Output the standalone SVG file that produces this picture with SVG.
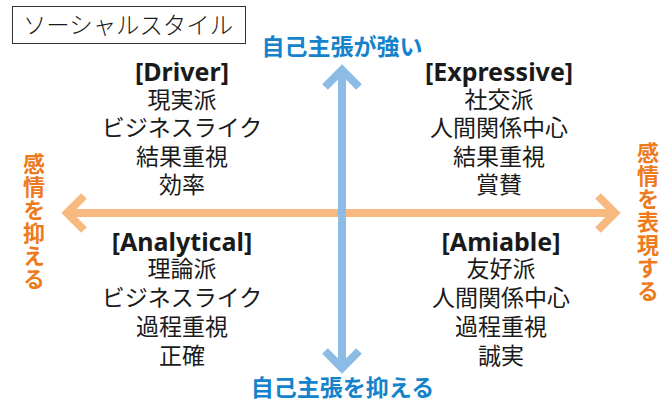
<svg xmlns="http://www.w3.org/2000/svg" width="667" height="403" viewBox="0 0 667 403">
<style>
.t{font-family:"Noto Sans CJK JP","Noto Sans",sans-serif;fill:#1a1a1a;font-size:23px;text-anchor:middle}
.h{font-family:"Noto Sans","Noto Sans CJK JP",sans-serif;font-weight:bold;font-size:25px}
.blue{font-family:"Noto Sans CJK JP",sans-serif;font-weight:bold;font-size:23px;fill:#1583CC;text-anchor:middle}
.orange{font-family:"Noto Sans CJK JP",sans-serif;font-weight:bold;font-size:22px;fill:#EE7A1C;writing-mode:vertical-rl;text-anchor:start;letter-spacing:1px}
.ah{fill:none;stroke-width:8;stroke-linejoin:miter;stroke-linecap:butt}
</style>
<rect x="0" y="0" width="667" height="403" fill="#ffffff"/>
<g id="title">
<rect x="12.5" y="6.5" width="233" height="37" fill="#ffffff" stroke="#333333" stroke-width="1"/>
<text class="t" x="128" y="33.5" style="font-size:23.4px;font-weight:300">ソーシャルスタイル</text>
</g>
<g id="connectors">
<g id="horizontal-axis" stroke="#F8B981">
<line x1="66" y1="213" x2="616" y2="213" stroke-width="8"/>
<polyline class="ah" points="84,196 67,213 84,230"/>
<polyline class="ah" points="598,196 615,213 598,230"/>
</g>
<g id="vertical-axis" stroke="#8CBCE6">
<line x1="342" y1="70" x2="342" y2="368" stroke-width="8"/>
<polyline class="ah" points="325,87 342,70 359,87"/>
<polyline class="ah" points="325,351 342,368 359,351"/>
</g>
</g>
<g id="label-top"><text class="blue" x="342" y="55">自己主張が強い</text></g>
<g id="label-bottom"><text class="blue" x="342.5" y="396">自己主張を抑える</text></g>
<g id="label-left"><text class="orange" x="34" y="153">感情を抑える</text></g>
<g id="label-right"><text class="orange" x="648" y="142">感情を表現する</text></g>
<g id="driver">
<text class="t"><tspan class="h" x="182" y="81">[Driver]</tspan><tspan x="182" y="107.5">現実派</tspan><tspan x="182" y="136">ビジネスライク</tspan><tspan x="182" y="164.5">結果重視</tspan><tspan x="182" y="193">効率</tspan></text>
</g>
<g id="expressive">
<text class="t"><tspan class="h" x="499" y="81">[Expressive]</tspan><tspan x="499" y="107.5">社交派</tspan><tspan x="499" y="136">人間関係中心</tspan><tspan x="499" y="164.5">結果重視</tspan><tspan x="499" y="193">賞賛</tspan></text>
</g>
<g id="analytical">
<text class="t"><tspan class="h" x="182" y="251">[Analytical]</tspan><tspan x="182" y="277">理論派</tspan><tspan x="182" y="306">ビジネスライク</tspan><tspan x="182" y="335">過程重視</tspan><tspan x="182" y="364">正確</tspan></text>
</g>
<g id="amiable">
<text class="t"><tspan class="h" x="501" y="251">[Amiable]</tspan><tspan x="501" y="277">友好派</tspan><tspan x="501" y="306">人間関係中心</tspan><tspan x="501" y="335">過程重視</tspan><tspan x="501" y="364">誠実</tspan></text>
</g>
</svg>
